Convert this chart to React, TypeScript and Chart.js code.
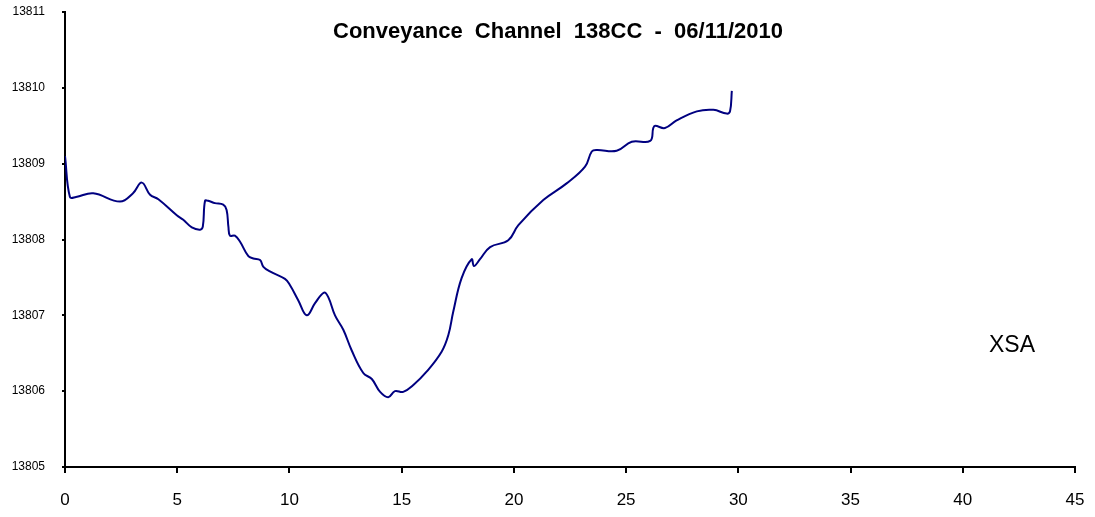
import React, { useEffect, useRef } from "react";
import { Chart, registerables } from "chart.js";

Chart.register(...registerables);

const chartTitle = "Conveyance  Channel  138CC  -  06/11/2010";
const seriesLabel = "XSA";

const stations = [
  0, 0.22, 0.49, 1.26, 2.45, 3.03, 3.42, 3.79, 4.16, 4.98,
  5.27, 5.65, 6.02, 6.14, 6.24, 6.38, 6.68, 7.05, 7.2, 7.28,
  7.35, 7.57, 7.8, 8.17, 8.39, 8.69, 8.84, 9.13, 9.8, 10.02,
  10.39, 10.77, 11.14, 11.54, 11.73, 12.03, 12.4, 12.77, 13.29, 13.67,
  14.04, 14.4, 14.7, 15.07, 15.52, 16.12, 16.78, 17.08, 17.3, 17.67,
  18.12, 18.22, 18.49, 18.94, 19.75, 20.2, 21.31, 22.35, 23.17, 23.47,
  23.69, 24.58, 25.25, 26.07, 26.21, 26.29, 26.73, 27.25, 28.15, 28.89,
  29.48, 29.63, 29.71,
];

const elevations = [
  13809.1, 13808.56, 13808.56, 13808.61, 13808.5, 13808.61, 13808.75, 13808.59, 13808.53, 13808.32,
  13808.26, 13808.16, 13808.13, 13808.17, 13808.51, 13808.51, 13808.48, 13808.46, 13808.39, 13808.17,
  13808.05, 13808.05, 13807.97, 13807.78, 13807.75, 13807.73, 13807.64, 13807.58, 13807.48, 13807.4,
  13807.2, 13807.0, 13807.16, 13807.3, 13807.24, 13807.0, 13806.81, 13806.54, 13806.24, 13806.16,
  13805.99, 13805.92, 13806.0, 13805.99, 13806.08, 13806.26, 13806.52, 13806.74, 13807.05, 13807.49,
  13807.74, 13807.65, 13807.74, 13807.9, 13807.99, 13808.19, 13808.52, 13808.74, 13808.96, 13809.16,
  13809.18, 13809.17, 13809.29, 13809.3, 13809.47, 13809.5, 13809.47, 13809.57, 13809.69, 13809.71,
  13809.66, 13809.69, 13809.96,
];

const xMin = 0;
const xMax = 45;
const xStep = 5;
const yMin = 13805;
const yMax = 13811;
const yStep = 1;

const textPlugin = {
  id: "textOverlay",
  afterDraw(chart: any) {
    const ctx = chart.ctx;
    ctx.save();
    ctx.fillStyle = "#000000";
    ctx.textAlign = "center";
    ctx.textBaseline = "alphabetic";
    ctx.font = "bold 22px 'Liberation Sans', Arial, sans-serif";
    ctx.fillText(chartTitle, 558, 37.5);
    ctx.font = "23px 'Liberation Sans', Arial, sans-serif";
    ctx.fillText(seriesLabel, 1012, 352);
    ctx.restore();
  },
};

export default function App() {
  const ref = useRef<HTMLCanvasElement>(null);
  useEffect(() => {
    if (!ref.current) return;
    const data = stations.map((x, i) => ({ x, y: elevations[i] }));
    const chart = new Chart(ref.current, {
      type: "scatter",
      data: {
        datasets: [
          {
            label: seriesLabel,
            data,
            showLine: true,
            borderColor: "#000080",
            backgroundColor: "#000080",
            borderWidth: 2,
            pointRadius: 0,
            tension: 0.4,
          },
        ],
      },
      options: {
        responsive: false,
        animation: false,
        layout: { padding: { left: 0, right: 20, top: 12, bottom: 0 } },
        plugins: {
          legend: { display: false },
          title: { display: false },
          tooltip: { enabled: false },
        },
        scales: {
          x: {
            type: "linear",
            min: xMin,
            max: xMax,
            ticks: {
              stepSize: xStep,
              color: "#000000",
              padding: 17,
              maxRotation: 0,
              font: { family: "'Liberation Sans', Arial, sans-serif", size: 17 },
            },
            grid: {
              display: true,
              drawOnChartArea: false,
              drawTicks: true,
              tickLength: 6,
              color: "#000000",
              lineWidth: 2,
            },
            border: { display: true, color: "#000000", width: 2 },
            afterFit(scale: any) {
              scale.height = 50;
              scale.paddingLeft = 0;
              scale.paddingRight = 0;
              scale.paddingTop = 0;
              scale.paddingBottom = 0;
            },
          },
          y: {
            type: "linear",
            min: yMin,
            max: yMax,
            ticks: {
              stepSize: yStep,
              color: "#000000",
              padding: 17,
              callback: (v: any) => String(v),
              font: { family: "'Liberation Sans', Arial, sans-serif", size: 12 },
            },
            grid: {
              display: true,
              drawOnChartArea: false,
              drawTicks: true,
              tickLength: 3,
              color: "#000000",
              lineWidth: 2,
            },
            border: { display: true, color: "#000000", width: 2 },
            afterFit(scale: any) {
              scale.width = 65;
              scale.paddingLeft = 0;
              scale.paddingRight = 0;
              scale.paddingTop = 0;
              scale.paddingBottom = 0;
            },
          },
        },
      },
      plugins: [textPlugin],
    });
    return () => chart.destroy();
  }, []);
  return (
    <div style={{ position: "fixed", left: 0, top: 0, width: 1095, height: 517, background: "#ffffff" }}>
      <canvas ref={ref} width={1095} height={517} />
    </div>
  );
}
